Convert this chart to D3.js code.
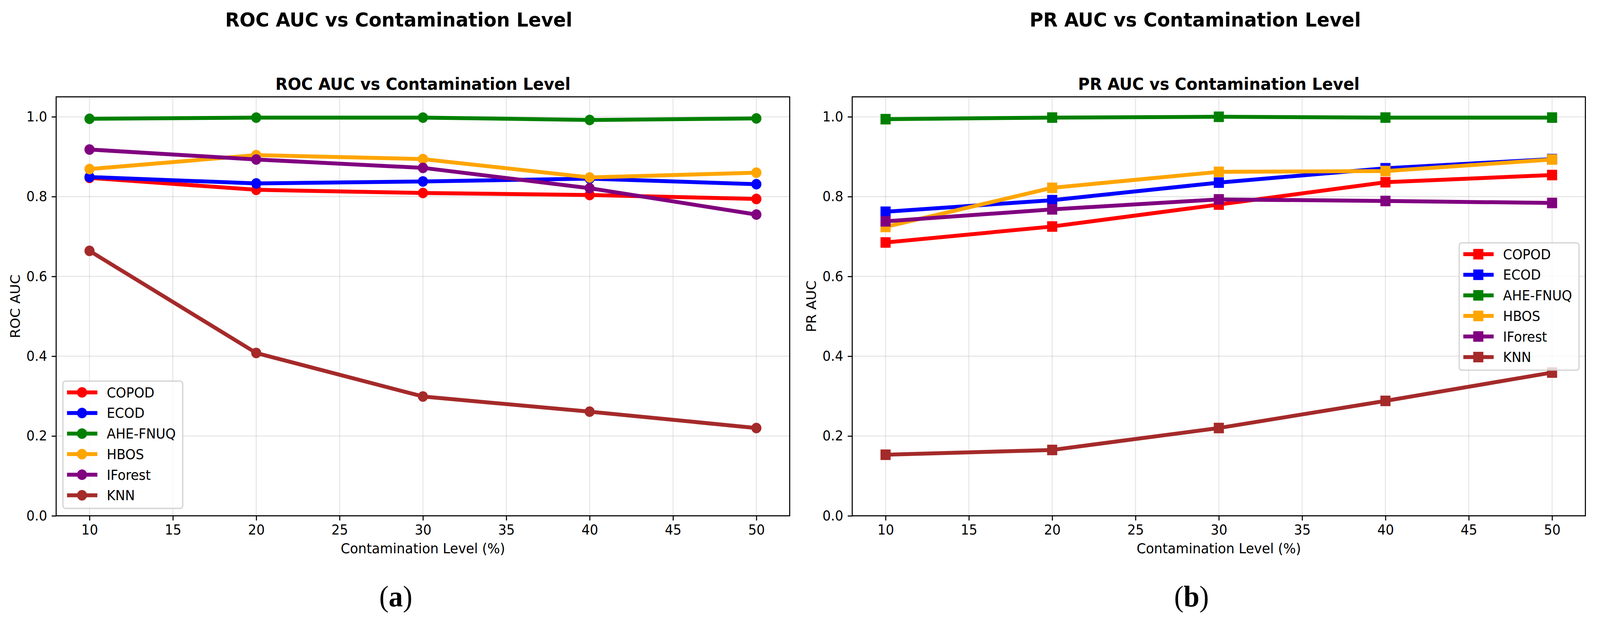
<!DOCTYPE html>
<html>
<head>
<meta charset="utf-8">
<script src="https://cdn.jsdelivr.net/npm/d3@7"></script>
<style>
html,body{margin:0;padding:0;background:#fff;width:100%;height:100%;overflow:hidden;}
svg{display:block;width:100vw;height:100vh;}
</style>
</head>
<body>
<svg id="chart" viewBox="0 0 4273 1593" preserveAspectRatio="none"></svg>
<script>
// ---------------- DATA ----------------
const contamination = [10, 20, 30, 40, 50];
const methods = ["COPOD", "ECOD", "AHE-FNUQ", "HBOS", "IForest", "KNN"];
const methodColors = ["red", "blue", "green", "orange", "purple", "brown"];

const rocCOPOD   = [0.847, 0.817, 0.809, 0.804, 0.794];
const rocECOD    = [0.849, 0.833, 0.838, 0.845, 0.831];
const rocAHE     = [0.995, 0.998, 0.998, 0.992, 0.996];
const rocHBOS    = [0.869, 0.904, 0.894, 0.848, 0.860];
const rocIForest = [0.918, 0.893, 0.872, 0.821, 0.755];
const rocKNN     = [0.664, 0.408, 0.299, 0.261, 0.220];

const prCOPOD    = [0.685, 0.725, 0.780, 0.836, 0.854];
const prECOD     = [0.762, 0.791, 0.835, 0.871, 0.894];
const prAHE      = [0.994, 0.998, 1.000, 0.998, 0.998];
const prHBOS     = [0.724, 0.822, 0.862, 0.864, 0.893];
const prIForest  = [0.738, 0.768, 0.793, 0.789, 0.784];
const prKNN      = [0.153, 0.165, 0.220, 0.288, 0.359];

const xTicks = [10, 15, 20, 25, 30, 35, 40, 45, 50];
const yTicks = [0.0, 0.2, 0.4, 0.6, 0.8, 1.0];

const panels = [
  {
    suptitle: "ROC AUC vs Contamination Level",
    title: "ROC AUC vs Contamination Level",
    ylabel: "ROC AUC",
    xlabel: "Contamination Level (%)",
    caption: "a",
    series: [rocCOPOD, rocECOD, rocAHE, rocHBOS, rocIForest, rocKNN],
    marker: "circle",
    layout: {left: 150, right: 2109, top: 248, bottom: 1321, supX: 1065, capX: 1057, legendX: 168, legendY: 976}
  },
  {
    suptitle: "PR AUC vs Contamination Level",
    title: "PR AUC vs Contamination Level",
    ylabel: "PR AUC",
    xlabel: "Contamination Level (%)",
    caption: "b",
    series: [prCOPOD, prECOD, prAHE, prHBOS, prIForest, prKNN],
    marker: "square",
    layout: {left: 2276, right: 4234, top: 248, bottom: 1321, supX: 3192, capX: 3182, legendX: 3897, legendY: 622}
  }
];

// ---------------- DRAW ----------------
const svg = d3.select("#chart");
svg.append("rect").attr("width", 4273).attr("height", 1593).attr("fill", "#fff");

const FONT = "'DejaVu Sans', Verdana, sans-serif";
const LW = 10;
const MS = 27;

panels.forEach(p => {
  const L = p.layout;
  const x = d3.scaleLinear().domain([8, 52]).range([L.left, L.right]);
  const y = d3.scaleLinear().domain([0, 1.05]).range([L.bottom, L.top]);
  const g = svg.append("g");

  // suptitle
  g.append("text").attr("x", L.supX).attr("y", 68)
    .attr("text-anchor", "middle").attr("font-family", FONT)
    .attr("font-weight", "bold").attr("font-size", 50).text(p.suptitle);
  // axes title
  g.append("text").attr("x", (L.left + L.right) / 2).attr("y", 230)
    .attr("text-anchor", "middle").attr("font-family", FONT)
    .attr("font-weight", "bold").attr("font-size", 42.5).text(p.title);

  // grid
  const grid = g.append("g").attr("stroke", "#b0b0b0").attr("stroke-opacity", 0.3).attr("stroke-width", 2.8);
  xTicks.forEach(t => grid.append("line").attr("x1", x(t)).attr("x2", x(t)).attr("y1", L.top).attr("y2", L.bottom));
  yTicks.forEach(t => grid.append("line").attr("x1", L.left).attr("x2", L.right).attr("y1", y(t)).attr("y2", y(t)));

  // clip
  const clipId = "clip-" + p.caption;
  svg.append("clipPath").attr("id", clipId).append("rect")
    .attr("x", L.left).attr("y", L.top).attr("width", L.right - L.left).attr("height", L.bottom - L.top);

  const plot = g.append("g").attr("clip-path", `url(#${clipId})`);
  const line = d3.line().x((d, i) => x(contamination[i])).y(d => y(d));

  p.series.forEach((vals, si) => {
    const c = methodColors[si];
    const sg = plot.append("g");
    sg.append("path").datum(vals).attr("d", line).attr("fill", "none")
      .attr("stroke", c).attr("stroke-width", LW).attr("stroke-linejoin", "round").attr("stroke-linecap", "butt");
    vals.forEach((v, i) => {
      if (p.marker === "circle") {
        sg.append("circle").attr("cx", x(contamination[i])).attr("cy", y(v)).attr("r", MS / 2).attr("fill", c);
      } else {
        sg.append("rect").attr("x", x(contamination[i]) - MS / 2).attr("y", y(v) - MS / 2)
          .attr("width", MS).attr("height", MS).attr("fill", c);
      }
    });
  });

  // axes
  const xAxis = d3.axisBottom(x).tickValues(xTicks).tickFormat(d3.format("d")).tickSize(12).tickPadding(11);
  const yAxis = d3.axisLeft(y).tickValues(yTicks).tickFormat(d3.format(".1f")).tickSize(12).tickPadding(12);
  const gx = g.append("g").attr("transform", `translate(0,${L.bottom})`).call(xAxis);
  const gy = g.append("g").attr("transform", `translate(${L.left},0)`).call(yAxis);
  [gx, gy].forEach(a => {
    a.select(".domain").remove();
    a.selectAll(".tick line").attr("stroke", "#000").attr("stroke-width", 2.8);
    a.selectAll(".tick text").attr("font-family", FONT).attr("font-size", 35).attr("fill", "#000");
  });

  // spines
  g.append("rect").attr("x", L.left).attr("y", L.top).attr("width", L.right - L.left).attr("height", L.bottom - L.top)
    .attr("fill", "none").attr("stroke", "#000").attr("stroke-width", 2.8);

  // labels
  g.append("text").attr("x", (L.left + L.right) / 2).attr("y", 1417)
    .attr("text-anchor", "middle").attr("font-family", FONT).attr("font-size", 35.5).text(p.xlabel);
  g.append("text").attr("transform", `translate(${L.left - 97},${(L.top + L.bottom) / 2}) rotate(-90)`)
    .attr("text-anchor", "middle").attr("font-family", FONT).attr("font-size", 35.5).text(p.ylabel);

  // legend
  const lg = g.append("g").attr("transform", `translate(${L.legendX},${L.legendY})`);
  lg.append("rect").attr("x", 0).attr("y", 0).attr("width", 320).attr("height", 326).attr("rx", 7)
    .attr("fill", "#fff").attr("fill-opacity", 0.8).attr("stroke", "#cccccc").attr("stroke-opacity", 0.8).attr("stroke-width", 3.5);
  methods.forEach((m, i) => {
    const cy = 29 + i * 52.7;
    const c = methodColors[i];
    lg.append("line").attr("x1", 11).attr("x2", 92).attr("y1", cy).attr("y2", cy)
      .attr("stroke", c).attr("stroke-width", LW);
    if (p.marker === "circle") {
      lg.append("circle").attr("cx", 51).attr("cy", cy).attr("r", MS / 2).attr("fill", c);
    } else {
      lg.append("rect").attr("x", 51 - MS / 2).attr("y", cy - MS / 2).attr("width", MS).attr("height", MS).attr("fill", c);
    }
    lg.append("text").attr("x", 117).attr("y", cy + 12.8).attr("font-family", FONT).attr("font-size", 35).text(m);
  });

  // caption
  const cap = svg.append("text").attr("x", L.capX).attr("y", 1553).attr("text-anchor", "middle")
    .attr("font-family", "'Liberation Serif', 'Times New Roman', serif").attr("font-size", 76);
  cap.append("tspan").text("(");
  cap.append("tspan").attr("font-weight", "bold").text(p.caption);
  cap.append("tspan").text(")");
});
</script>
</body>
</html>
